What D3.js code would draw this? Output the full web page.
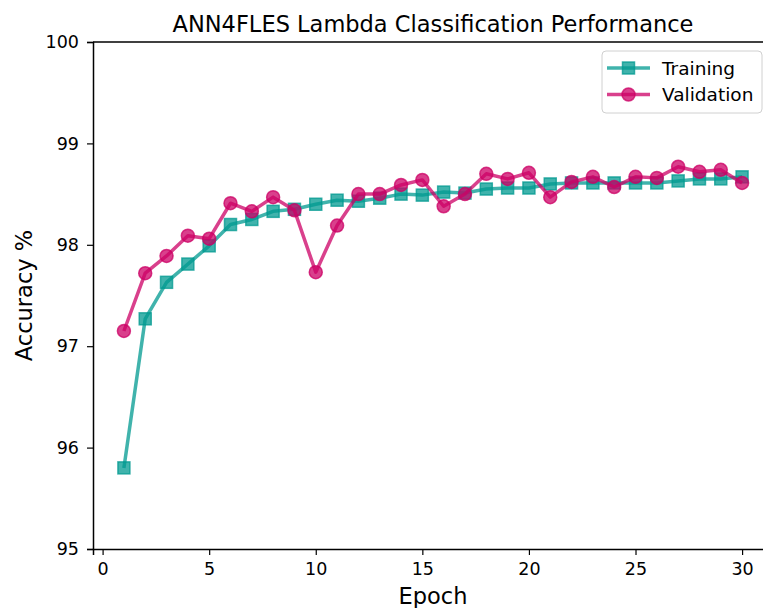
<!DOCTYPE html>
<html>
<head>
<meta charset="utf-8">
<script src="https://cdn.jsdelivr.net/npm/d3@7"></script>
<style>
  body { margin: 0; background: #fff; }
  svg { display: block; font-family: "DejaVu Sans", sans-serif; }
</style>
</head>
<body>
<svg id="chart" width="763" height="608"></svg>
<script>
const epochs = d3.range(1, 31);
const training = [95.80, 97.27, 97.63, 97.81, 97.99, 98.20, 98.25, 98.33, 98.35, 98.40,
  98.44, 98.43, 98.46, 98.50, 98.49, 98.52, 98.51, 98.55, 98.56, 98.56,
  98.60, 98.61, 98.61, 98.61, 98.61, 98.61, 98.63, 98.65, 98.65, 98.67];
const validation = [97.15, 97.72, 97.89, 98.09, 98.06, 98.41, 98.33, 98.47, 98.34, 97.73,
  98.19, 98.50, 98.50, 98.59, 98.64, 98.38, 98.50, 98.70, 98.65, 98.71,
  98.47, 98.62, 98.67, 98.57, 98.67, 98.66, 98.77, 98.72, 98.74, 98.61];
const xTicks = [0, 5, 10, 15, 20, 25, 30];
const yTicks = [95, 96, 97, 98, 99, 100];

// SETUP
const svg = d3.select('#chart'),
  margin = { top: 42, left: 93 },
  width = 680,
  height = 507;

const x = d3.scaleLinear().domain([-0.45, 31.45]).range([0, width]);
const y = d3.scaleLinear().domain([95, 100]).range([height, 0]);

const g = svg.append('g')
  .attr('transform', 'translate(' + margin.left + ',' + margin.top + ')');

// AXES
const xAxis = g.append('g')
  .attr('transform', 'translate(0,' + height + ')')
  .call(d3.axisBottom(x).tickValues(xTicks).tickFormat(d3.format('d')).tickSize(6).tickPadding(8));
const yAxis = g.append('g')
  .call(d3.axisLeft(y).tickValues(yTicks).tickFormat(d3.format('d')).tickSize(6).tickPadding(8));
[xAxis, yAxis].forEach(a => {
  a.selectAll('.domain').attr('stroke', '#000').attr('stroke-width', 1.5);
  a.selectAll('.tick line').attr('stroke', '#000').attr('stroke-width', 1.2);
  a.selectAll('text').attr('font-size', 17.5).attr('fill', '#000')
    .attr('font-family', '"DejaVu Sans", sans-serif');
});
// top spine
g.append('line')
  .attr('x1', 0).attr('x2', width)
  .attr('y1', 0).attr('y2', 0)
  .attr('stroke', '#000').attr('stroke-width', 1.5);

// LABELS
svg.append('text')
  .attr('x', margin.left + width / 2).attr('y', 32)
  .attr('text-anchor', 'middle').attr('font-size', 22.5)
  .text('ANN4FLES Lambda Classification Performance');
svg.append('text')
  .attr('x', margin.left + width / 2).attr('y', 604)
  .attr('text-anchor', 'middle').attr('font-size', 22.5)
  .text('Epoch');
svg.append('text')
  .attr('transform', 'translate(32,' + (margin.top + height / 2) + ') rotate(-90)')
  .attr('text-anchor', 'middle').attr('font-size', 22.5)
  .text('Accuracy %');

// SERIES
const series = [
  { name: 'Training', values: training, color: '#009990', marker: 'square' },
  { name: 'Validation', values: validation, color: '#cc0066', marker: 'circle' }
];

const line = d3.line()
  .x((d, i) => x(epochs[i]))
  .y(d => y(d));

function drawMarker(sel, s, cx, cy) {
  const m = s.marker === 'square'
    ? sel.append('rect').attr('x', cx - 6).attr('y', cy - 6).attr('width', 12).attr('height', 12)
    : sel.append('circle').attr('cx', cx).attr('cy', cy).attr('r', 6.5);
  m.attr('fill', s.color).attr('fill-opacity', 0.75)
    .attr('stroke', s.color).attr('stroke-opacity', 0.75).attr('stroke-width', 1.5);
}

series.forEach(s => {
  const sg = g.append('g');
  sg.append('path')
    .datum(s.values)
    .attr('d', line)
    .attr('fill', 'none')
    .attr('stroke', s.color)
    .attr('stroke-opacity', 0.75)
    .attr('stroke-width', 3.5)
    .attr('stroke-linejoin', 'round');
  s.values.forEach((v, i) => drawMarker(sg, s, x(epochs[i]), y(v)));
});

// LEGEND
const legend = svg.append('g').attr('transform', 'translate(602,51)');
legend.append('rect')
  .attr('width', 160).attr('height', 62).attr('rx', 4)
  .attr('fill', '#fff').attr('fill-opacity', 0.8)
  .attr('stroke', '#d0d0d0').attr('stroke-width', 1);
series.forEach((s, i) => {
  const ly = 17 + i * 26.5;
  legend.append('line')
    .attr('x1', 5).attr('x2', 48).attr('y1', ly).attr('y2', ly)
    .attr('stroke', s.color).attr('stroke-opacity', 0.75).attr('stroke-width', 3.5);
  drawMarker(legend, s, 26.5, ly);
  legend.append('text')
    .attr('x', 60).attr('y', ly + 6.5).attr('font-size', 18.5)
    .text(s.name);
});
</script>
</body>
</html>
